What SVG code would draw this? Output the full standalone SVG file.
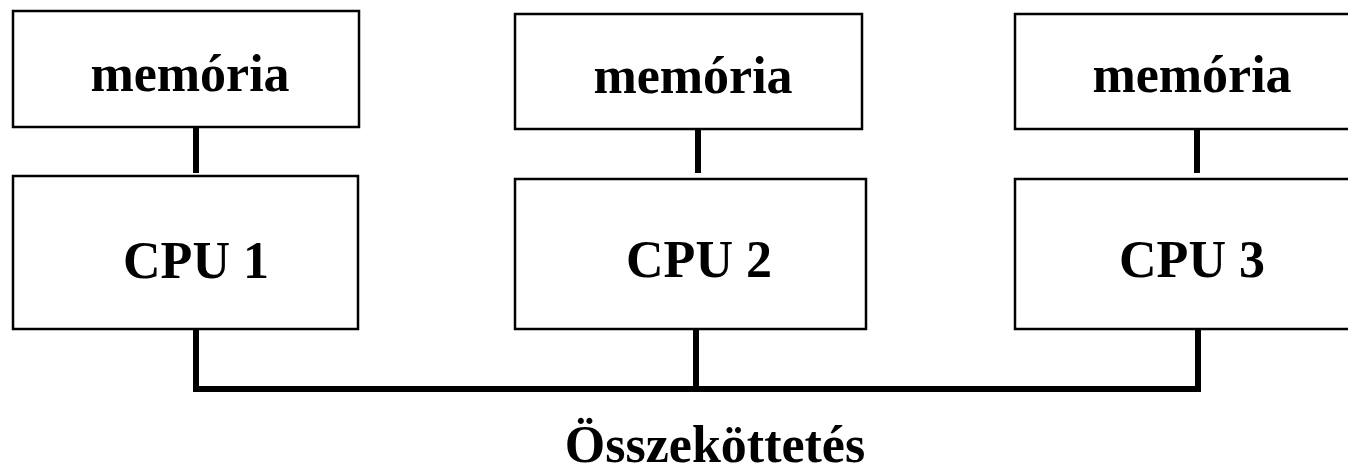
<svg xmlns="http://www.w3.org/2000/svg" width="1348" height="470" viewBox="0 0 1348 470">
<style>
.box{fill:#fff;stroke:#000;stroke-width:2.5}
.lbl{font-family:"Liberation Serif","Times New Roman",serif;font-weight:bold;font-size:52px;fill:#000;text-anchor:middle}
.con{fill:none;stroke:#000;stroke-width:6}
</style>
<rect width="1348" height="470" fill="#fff"/>
<g id="connectors">
<line class="con" x1="196" y1="127" x2="196" y2="173"/>
<line class="con" x1="698" y1="129" x2="698" y2="173"/>
<line class="con" x1="1197" y1="129" x2="1197" y2="173"/>
<polyline class="con" points="196,329 196,389 1198,389 1198,329"/>
<line class="con" x1="696" y1="329" x2="696" y2="389"/>
</g>
<g id="mem1"><rect class="box" x="13" y="11" width="346" height="116"/><text class="lbl" x="190" y="91">memória</text></g>
<g id="mem2"><rect class="box" x="515" y="14" width="347" height="115"/><text class="lbl" x="693" y="93">memória</text></g>
<g id="mem3"><rect class="box" x="1015" y="14" width="345" height="115"/><text class="lbl" x="1192" y="92">memória</text></g>
<g id="cpu1"><rect class="box" x="13" y="176" width="345" height="153"/><text class="lbl" x="196" y="278">CPU 1</text></g>
<g id="cpu2"><rect class="box" x="515" y="179" width="351" height="150"/><text class="lbl" x="699" y="277">CPU 2</text></g>
<g id="cpu3"><rect class="box" x="1015" y="179" width="345" height="150"/><text class="lbl" x="1192" y="277">CPU 3</text></g>
<g id="bus-label"><text class="lbl" x="715" y="462">Összeköttetés</text></g>
</svg>
